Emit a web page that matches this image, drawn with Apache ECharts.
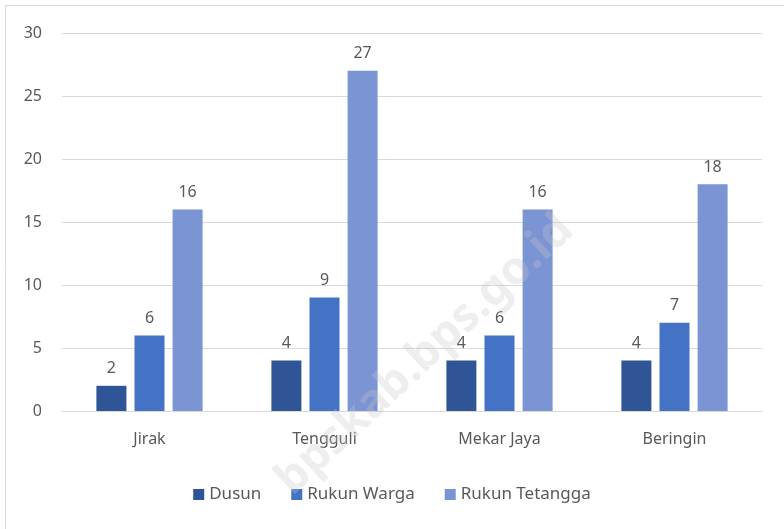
<!DOCTYPE html>
<html><head><meta charset="utf-8">
<script src="https://cdn.jsdelivr.net/npm/echarts@6/dist/echarts.min.js"></script>
<style>html,body{margin:0;padding:0;background:#fff}#c{width:784px;height:529px}</style>
</head><body><div id="c"></div>
<script>
const categories = ['Jirak', 'Tengguli', 'Mekar Jaya', 'Beringin'];
const dusun = [2, 4, 4, 4];
const rukunWarga = [6, 9, 6, 7];
const rukunTetangga = [16, 27, 16, 18];
const seriesNames = ['Dusun', 'Rukun Warga', 'Rukun Tetangga'];
const colors = ['#2F5597', '#4472C4', '#7B94D3'];
const font = 'Noto Sans';
const chart = echarts.init(document.getElementById('c'));
const lbl = {show: true, position: 'top', distance: 9, color: '#595959', fontSize: 16, fontFamily: font};
chart.setOption({
  animation: false,
  color: colors,
  graphic: [
    {type: 'rect', shape: {x: 5.5, y: 5.5, width: 790, height: 540}, style: {fill: 'none', stroke: '#d9d9d9', lineWidth: 1}},
    {type: 'text', x: 425, y: 355, rotation: Math.PI * 43 / 180, originX: 0, originY: 0,
     style: {text: 'bpskab.bps.go.id', fill: 'rgba(200,200,200,0.3)', font: 'bold 46px "Noto Sans"', align: 'center', verticalAlign: 'middle'}, z: 100}
  ],
  grid: {left: 62, right: 22, top: 33, bottom: 118, containLabel: false},
  legend: {
    bottom: 21, left: 'center', itemWidth: 11, itemHeight: 11, itemGap: 30, icon: 'rect',
    textStyle: {color: '#595959', fontSize: 17, fontFamily: font}, data: seriesNames
  },
  xAxis: {
    type: 'category', data: categories,
    axisLine: {lineStyle: {color: '#d9d9d9', width: 1}}, axisTick: {show: false},
    axisLabel: {color: '#595959', fontSize: 16, fontFamily: font, margin: 20}
  },
  yAxis: {
    type: 'value', min: 0, max: 30, interval: 5,
    axisLine: {show: false}, axisTick: {show: false},
    splitLine: {lineStyle: {color: '#d9d9d9', width: 1}},
    axisLabel: {color: '#595959', fontSize: 16, fontFamily: font, margin: 20}
  },
  series: [
    {name: seriesNames[0], type: 'bar', data: dusun, barWidth: 30, barGap: '27%', label: lbl},
    {name: seriesNames[1], type: 'bar', data: rukunWarga, barWidth: 30, barGap: '27%', label: lbl},
    {name: seriesNames[2], type: 'bar', data: rukunTetangga, barWidth: 30, barGap: '27%', label: lbl}
  ]
});
</script></body></html>
